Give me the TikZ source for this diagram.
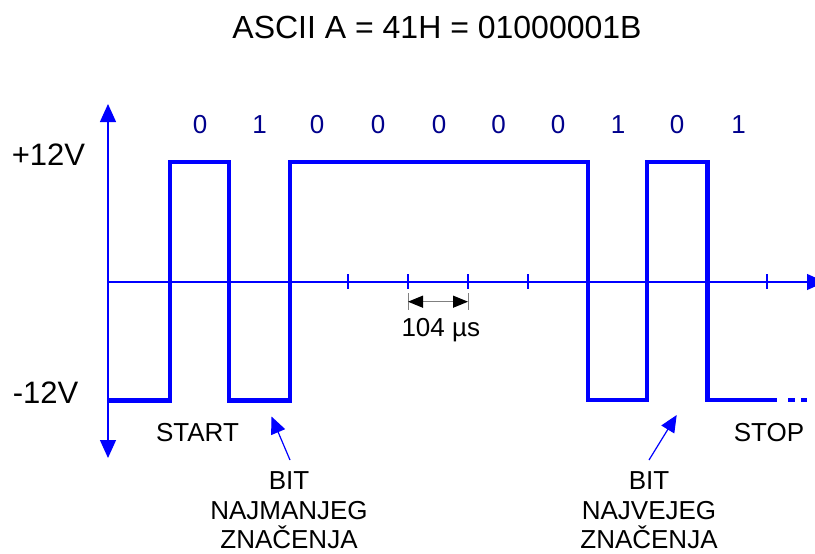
\documentclass[tikz,border=0pt]{standalone}
\usepackage{fontspec}
\setmainfont{Liberation Sans}
\usetikzlibrary{arrows.meta}
\definecolor{sig}{RGB}{0,0,255}
\definecolor{navyd}{RGB}{0,0,140}
\begin{document}
\begin{tikzpicture}[x=1pt,y=-1pt,
  sigline/.style={draw=sig, line width=4.5pt, line join=miter},
  axisline/.style={draw=sig, line width=1.3pt},
  tick/.style={draw=sig, line width=1.1pt},
  lbl/.style={font=\fontsize{26}{29.3}\selectfont, inner sep=0pt, anchor=base, text=black},
  bitlbl/.style={lbl, text=navyd},
  ptr/.style={draw=sig, line width=1.2pt, -{Triangle[width=15pt,length=17pt]}}
]
\useasboundingbox (0,0) rectangle (815,554);
\clip (0,0) rectangle (815,554);

% title
\node[lbl, font=\fontsize{32}{36}\selectfont] (title) at (437,38.3) {ASCII A = 41H = 01000001B};

% axes
\coordinate (vbot) at (108,458);
\coordinate (vtop) at (108,104);
\coordinate (hstart) at (108,282);
\coordinate (hend) at (825,282);
\draw[axisline, {Triangle[width=16pt,length=18pt]}-{Triangle[width=16pt,length=18pt]}] (vbot) -- (vtop);
\draw[axisline, -{Triangle[width=16pt,length=18pt]}] (hstart) -- (hend);

% ticks
\foreach \x in {348,408,468,528,767}
  \draw[tick] (\x,274) -- (\x,289);

% signal
\draw[sigline] (108,400.5) -- (170,400.5) -- (170,162) -- (229,162) -- (229,400.5)
  -- (290,400.5) -- (290,162) -- (588,162) -- (588,400) -- (647,400) -- (647,162)
  -- (707.5,162) -- (707.5,400) -- (777,400);
\draw[sigline, line cap=butt] (788,400) -- (795,400);
\draw[sigline, line cap=butt] (801,400) -- (807,400);

% level labels
\node[lbl, font=\fontsize{31}{36}\selectfont] (vplus) at (48.5,165) {+12V};
\node[lbl, font=\fontsize{31}{36}\selectfont] (vminus) at (45.5,403.3) {-12V};

% bit labels
\node[bitlbl] (b0) at (200,133) {0};
\node[bitlbl] (b1) at (259.5,133) {1};
\node[bitlbl] (b2) at (317,133) {0};
\node[bitlbl] (b3) at (378,133) {0};
\node[bitlbl] (b4) at (439,133) {0};
\node[bitlbl] (b5) at (498.5,133) {0};
\node[bitlbl] (b6) at (558,133) {0};
\node[bitlbl] (b7) at (618,133) {1};
\node[bitlbl] (b8) at (677,133) {0};
\node[bitlbl] (b9) at (738.5,133) {1};

% 104 us dimension
\coordinate (d1) at (408,301.7);
\coordinate (d2) at (468,301.7);
\draw[gray, line width=1pt] (408,293) -- (408,310);
\draw[gray, line width=1pt] (468,293) -- (468,310);
\draw[gray, line width=1.2pt, {Triangle[width=12pt,length=15pt,color=black]}-{Triangle[width=12pt,length=15pt,color=black]}] (d1) -- (d2);
\node[lbl] (dim) at (440.8,336.7) {104 µs};

% start / stop
\node[lbl] (start) at (197.5,441.7) {START};
\node[lbl] (stop) at (769,441.7) {STOP};

% bit significance labels (base = baseline of last line)
\node[lbl, align=center] (lsb) at (289,548.5) {BIT\\NAJMANJEG\\ZNAČENJA};
\node[lbl, align=center] (msb) at (649,548.5) {BIT\\NAJVEJEG\\ZNAČENJA};
\coordinate (lsbtail) at (290,460);
\coordinate (lsbtip) at (271.5,416.5);
\coordinate (msbtail) at (649,460);
\coordinate (msbtip) at (676.7,415);
\draw[ptr] (lsbtail) -- (lsbtip);
\draw[ptr] (msbtail) -- (msbtip);
\end{tikzpicture}
\end{document}
